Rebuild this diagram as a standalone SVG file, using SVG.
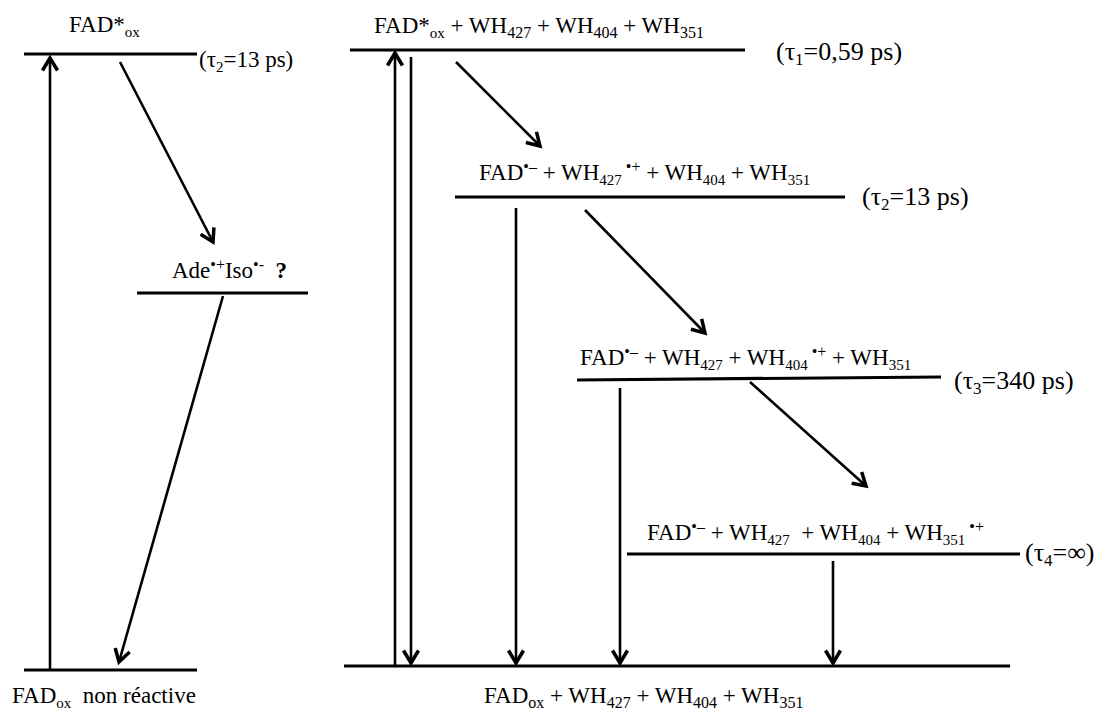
<svg xmlns="http://www.w3.org/2000/svg" width="1102" height="709" viewBox="0 0 1102 709">
<style>
text{font-family:"Liberation Serif","Times New Roman",serif;font-size:23px;fill:#000}
.sub{font-size:15px}
.sup{font-size:16px}
.big{font-size:26px}
.big .sub{font-size:17px}
.lvl{stroke:#000;stroke-width:3.2;fill:none}
.arr{stroke:#000;stroke-width:2.6;fill:none;marker-end:url(#ah)}
</style>
<defs>
<marker id="ah" markerUnits="userSpaceOnUse" markerWidth="20" markerHeight="20" viewBox="-12 -8 14 16" refX="0" refY="0" orient="auto">
<path d="M-10,-6 L0,0 L-10,6" fill="none" stroke="#000" stroke-width="2.8"/>
</marker>
</defs>
<rect width="1102" height="709" fill="#fff"/>

<g id="left-excited">
<line class="lvl" x1="24" y1="54" x2="197" y2="54"/>
<text x="69" y="32">FAD*<tspan class="sub" dy="5">ox</tspan></text>
<text x="199" y="67">(τ<tspan class="sub" dy="5">2</tspan><tspan dy="-5">=13 ps)</tspan></text>
</g>
<g id="left-ade-iso">
<line class="lvl" x1="137" y1="293" x2="308" y2="293"/>
<text x="172" y="278" xml:space="preserve">Ade<tspan class="sup" dy="-8">•+</tspan><tspan dy="8">Iso</tspan><tspan class="sup" dy="-8">•-</tspan><tspan dy="8" font-weight="bold">  ?</tspan></text>
</g>
<g id="left-ground">
<line class="lvl" x1="24" y1="670" x2="197" y2="670"/>
<text x="12" y="703" font-size="24" xml:space="preserve">FAD<tspan class="sub" dy="5">ox</tspan><tspan dy="-5">  non réactive</tspan></text>
</g>

<g id="right-excited">
<line class="lvl" x1="350" y1="50" x2="745" y2="50"/>
<text x="374" y="33" font-size="24.5">FAD*<tspan class="sub" dy="5" font-size="16">ox</tspan><tspan dy="-5"> + WH</tspan><tspan dy="5" font-size="16">427</tspan><tspan dy="-5"> + WH</tspan><tspan dy="5" font-size="16">404</tspan><tspan dy="-5"> + WH</tspan><tspan dy="5" font-size="16">351</tspan></text>
<text class="big" x="776" y="60">(τ<tspan class="sub" dy="5">1</tspan><tspan dy="-5">=0,59 ps)</tspan></text>
</g>
<g id="right-state2">
<line class="lvl" x1="455" y1="197" x2="845" y2="197"/>
<text x="479" y="180">FAD<tspan class="sup" dy="-8">•–</tspan><tspan dy="8"> + WH</tspan><tspan class="sub" dy="5">427</tspan><tspan class="sup" dy="-13"> •+</tspan><tspan dy="8"> + WH</tspan><tspan class="sub" dy="5">404</tspan><tspan dy="-5"> + WH</tspan><tspan class="sub" dy="5">351</tspan></text>
<text class="big" x="862" y="205">(τ<tspan class="sub" dy="5">2</tspan><tspan dy="-5">=13 ps)</tspan></text>
</g>
<g id="right-state3">
<line class="lvl" x1="577" y1="380" x2="941" y2="377"/>
<text x="580" y="365">FAD<tspan class="sup" dy="-8">•–</tspan><tspan dy="8"> + WH</tspan><tspan class="sub" dy="5">427</tspan><tspan dy="-5"> + WH</tspan><tspan class="sub" dy="5">404</tspan><tspan class="sup" dy="-13"> •+</tspan><tspan dy="8"> + WH</tspan><tspan class="sub" dy="5">351</tspan></text>
<text class="big" x="954" y="389">(τ<tspan class="sub" dy="5">3</tspan><tspan dy="-5">=340 ps)</tspan></text>
</g>
<g id="right-state4">
<line class="lvl" x1="627" y1="554" x2="1020" y2="554"/>
<text x="647" y="540" xml:space="preserve">FAD<tspan class="sup" dy="-8">•–</tspan><tspan dy="8"> + WH</tspan><tspan class="sub" dy="5">427</tspan><tspan dy="-5">  + WH</tspan><tspan class="sub" dy="5">404</tspan><tspan dy="-5"> + WH</tspan><tspan class="sub" dy="5">351</tspan><tspan class="sup" dy="-13"> •+</tspan></text>
<text class="big" x="1025" y="561">(τ<tspan class="sub" dy="5">4</tspan><tspan dy="-5">=∞)</tspan></text>
</g>
<g id="right-ground">
<line class="lvl" x1="344" y1="666" x2="1010" y2="666"/>
<text x="484" y="703" font-size="24.5">FAD<tspan dy="5" font-size="16">ox</tspan><tspan dy="-5"> + WH</tspan><tspan dy="5" font-size="16">427</tspan><tspan dy="-5"> + WH</tspan><tspan dy="5" font-size="16">404</tspan><tspan dy="-5"> + WH</tspan><tspan dy="5" font-size="16">351</tspan></text>
</g>

<g id="connectors">
<line class="arr" x1="50" y1="669" x2="50" y2="58"/>
<line class="arr" x1="120" y1="62" x2="213" y2="242"/>
<line class="arr" x1="223" y1="296" x2="119" y2="662"/>
<line class="arr" x1="395" y1="665" x2="395" y2="53"/>
<line class="arr" x1="411" y1="57" x2="411" y2="663"/>
<line class="arr" x1="456" y1="62" x2="540" y2="146"/>
<line class="arr" x1="516" y1="208" x2="516" y2="663"/>
<line class="arr" x1="585" y1="210" x2="705" y2="333"/>
<line class="arr" x1="620" y1="388" x2="620" y2="663"/>
<line class="arr" x1="750" y1="382" x2="866" y2="486"/>
<line class="arr" x1="833" y1="561" x2="833" y2="663"/>
</g>
</svg>
